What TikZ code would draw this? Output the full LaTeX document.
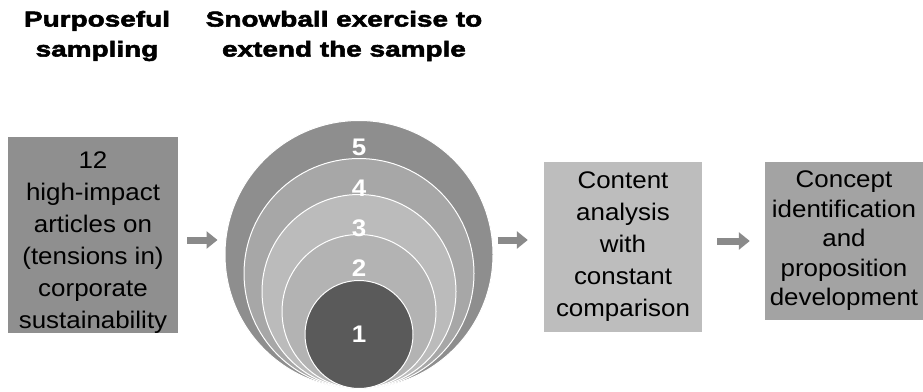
\documentclass[tikz,border=0pt]{standalone}
\usepackage{fontspec}
\setmainfont{Liberation Sans}[FakeStretch=1.08]
\newfontfamily\headfont{Liberation Sans}[FakeStretch=1.3,BoldFeatures={FakeBold=2.5}]
\usetikzlibrary{arrows.meta}

\definecolor{boxdark}{HTML}{8F8F8F}
\definecolor{boxlight}{HTML}{BDBDBD}
\definecolor{boxmid}{HTML}{A3A3A3}
\definecolor{ringfive}{HTML}{8E8E8E}
\definecolor{ringfour}{HTML}{A7A7A7}
\definecolor{ringthree}{HTML}{BBBBBB}
\definecolor{ringtwo}{HTML}{B3B3B3}
\definecolor{ringone}{HTML}{5A5A5A}
\definecolor{flowgray}{HTML}{8A8A8A}

\begin{document}
\begin{tikzpicture}[x=1pt,y=-1pt,
  stepbox/.style={inner sep=0pt,align=center,
    font=\fontsize{24}{32}\selectfont},
  heading/.style={align=center,font=\headfont\bfseries\fontsize{21.5}{30}\selectfont},
  ring/.style={circle,draw=white,line width=1pt,inner sep=0pt,anchor=south},
  num/.style={text=white,font=\fontsize{24}{24}\selectfont\bfseries},
  flow/.style={draw=flowgray,line width=7pt,-{Triangle[width=17pt,length=11pt]}}]
\useasboundingbox (0,0) rectangle (923,391);

% headings
\node[heading] (hpurp) at (97,36) {Purposeful\\sampling};
\node[heading] (hsnow) at (344,36) {Snowball exercise to\\extend the sample};

% first box
\node[stepbox,fill=boxdark,minimum width=170pt,minimum height=190pt] (sample) at (93,235)
  {\rule{0pt}{31pt}12\\high-impact\\articles on\\(tensions in)\\corporate\\sustainability};

% snowball: circles touching at the bottom
\coordinate (T) at (359,389);
\node[ring,fill=ringfive,minimum size=268pt] (c5) at (T) {};
\node[ring,fill=ringfour,minimum size=230pt] (c4) at (T) {};
\node[ring,fill=ringthree,minimum size=194pt] (c3) at (T) {};
\node[ring,fill=ringtwo,minimum size=154pt] (c2) at (T) {};
\node[ring,fill=ringone,minimum size=108pt] (c1) at (T) {};

\node[num] (n5) at (359,147) {5};
\node[num] (n4) at (359,188) {4};
\node[num] (n3) at (359,228) {3};
\node[num] (n2) at (359,268) {2};
\node[num] (n1) at (c1) {1};

% later steps
\node[stepbox,fill=boxlight,minimum width=158pt,minimum height=170pt] (content) at (623,247)
  {Content\\analysis\\with\\constant\\comparison};
\node[stepbox,fill=boxmid,minimum width=158pt,minimum height=158pt,
  font=\fontsize{24}{29.5}\selectfont] (concept) at (844,241)
  {Concept\\identification\\and\\proposition\\development};

% arrows
\draw[flow,shorten <=9pt,shorten >=7pt] ([yshift=-5pt]sample.east) -- ([yshift=-5pt]sample.east -| c5.west);
\draw[flow,shorten <=4pt,shorten >=16pt] ([yshift=7pt]content.west -| c5.east) -- ([yshift=7pt]content.west);
\draw[flow,shorten <=15pt,shorten >=15pt] (content.east |- concept.west) -- (concept.west);

\end{tikzpicture}
\end{document}
